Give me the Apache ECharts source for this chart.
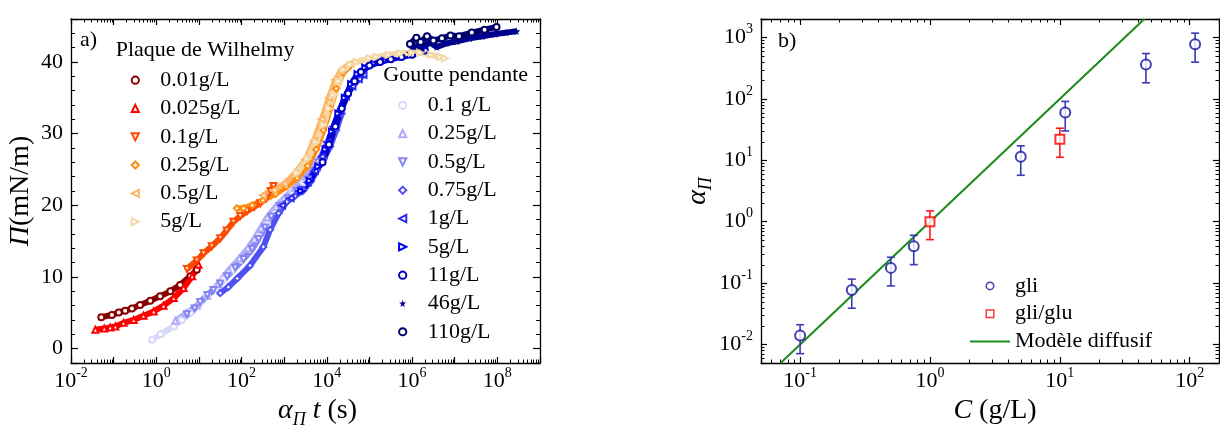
<!DOCTYPE html>
<html><head><meta charset="utf-8">
<script src="https://cdn.jsdelivr.net/npm/echarts@6/dist/echarts.min.js"></script>
<style>html,body{margin:0;padding:0;background:#fff}#c{width:1220px;height:430px}</style>
</head><body><div id="c"></div>
<script>
// ---------- data (x in s, Π in mN/m) : panel a) ----------
// Plaque de Wilhelmy
const w001  = [[0.0513,4.4],[0.0912,4.7],[0.132,5.05],[0.186,5.3],[0.269,5.6],[0.417,6.1],[0.724,6.7],[1.23,7.3],[2.14,8.0],[3.63,8.9],[6.31,10.1],[8.91,11.0]];
const w0025 = [[0.0372,2.65],[0.0603,2.8],[0.0832,2.97],[0.110,3.1],[0.170,3.6],[0.295,4.0],[0.501,4.6],[0.871,5.2],[1.48,6.0],[2.57,7.06],[4.37,8.45],[6.92,10.1],[9.77,11.7]];
const w01   = [[5.25,11.1],[8.91,12.3],[12.9,13.3],[20.0,14.3],[31.6,15.4],[44.7,16.5],[64.6,17.7],[93.3,18.5],[135,19.2],[200,19.8],[275,20.3],[380,21.0],[479,22.0],[562,22.7]];
const w025  = [[77.6,19.6],[112,19.6],[178,20.0],[316,20.7],[631,21.6],[1122,22.6],[1995,23.8],[3548,25.5],[5623,27.8],[8318,30.5],[12020,33.5],[16600,36.3],[23990,38.5],[35480,39.5]];
const w05   = [[316,21.4],[562,22.1],[1000,23.0],[1778,24.4],[3162,26.4],[5012,29.0],[7586,32.0],[11220,35.0],[15850,37.5],[22390,38.9],[35480,39.8]];
const w5    = [[1995,24.5],[3548,26.5],[5623,28.8],[8318,31.2],[11220,33.5],[14450,35.4],[19050,37.3],[24550,38.9],[35480,39.6],[50120,40.0],[1e5,40.5],[1.479e5,40.7],[2.818e5,41.0],[5.248e5,41.2],[1e6,41.3],[1.549e6,41.3],[2.818e6,41.0],[4.571e6,40.7],[5.888e6,40.5]];
// Goutte pendante
const g01   = [[0.794,1.25],[1.26,2.0],[2.57,3.1],[3.98,4.0],[6.31,5.0],[10,6.2],[15.5,7.3],[25.1,8.5],[38.0,9.6],[63.1,11.0],[100,12.4],[158,13.9],[251,15.6],[398,17.4],[631,19.2],[1000,20.6],[1585,21.8],[2818,23.2]];
const g025  = [[2.82,3.9],[5.01,4.9],[8.91,6.0],[15.8,7.4],[28.2,9.0],[50.1,10.9],[89.1,12.6],[141,14.0],[200,15.3],[282,16.8],[398,18.3],[631,19.8],[1000,21.0],[1778,22.4],[3162,24.0],[5623,26.0]];
const g05   = [[5.25,4.8],[7.94,5.6],[10.7,6.5],[15.8,7.5],[21.9,8.2],[31.6,9.1],[45.7,10.1],[70.8,11.3],[112,12.5],[178,13.9],[251,15.3],[355,16.9],[501,18.4],[794,19.9],[1259,21.0],[1995,22.0],[3548,23.6],[6310,26.0],[10000,28.5]];
const g075  = [[31.6,7.75],[49.0,8.6],[79.4,9.8],[158,11.6],[324,14.2],[468,16.6],[741,18.9],[1148,20.5],[1778,21.3],[2818,22.1],[4169,23.3],[5888,24.9],[8511,26.5],[12020,28.2],[16600,30.5],[22390,32.8]];
const g1    = [[891,20.0],[1413,21.0],[2239,22.0],[3548,23.2],[5248,24.8],[7586,26.8],[10470,28.8],[14450,31.0],[19950,33.2],[28180,35.2],[39810,36.6],[56230,37.6],[72440,38.2]];
const g5    = [[2512,22.0],[3981,23.4],[6310,25.4],[9333,27.8],[13180,30.3],[18620,32.8],[26300,35.0],[37150,36.9],[52480,38.3],[79430,39.2],[1.259e5,39.8],[2.239e5,40.2]];
const g11   = [[7943,26.0],[11220,28.5],[15850,31.0],[22390,33.5],[31620,35.6],[44670,37.3],[63100,38.6],[1e5,39.5],[1.778e5,40.0],[3.162e5,40.4],[5.623e5,40.7],[1e6,41.0],[1.995e6,41.6]];
const g46   = [[8.91e5,41.3],[1.259e6,42.3],[1.778e6,41.8],[2.512e6,42.8],[3.802e6,42.1],[6.31e6,42.6],[1.122e7,42.9],[2.239e7,43.3],[4.467e7,43.6],[8.913e7,43.9],[1.585e8,44.1],[2.818e8,44.3]];
const g110  = [[8.91e5,42.5],[1.259e6,43.4],[1.585e6,42.8],[2.239e6,43.6],[3.162e6,43.0],[5.012e6,43.3],[7.943e6,43.7],[1.259e7,43.6],[2.512e7,44.1],[5.012e7,44.5],[9.55e7,44.9]];

const wilNames = ['0.01g/L','0.025g/L','0.1g/L','0.25g/L','0.5g/L','5g/L'];
const gouNames = ['0.1 g/L','0.25g/L','0.5g/L','0.75g/L','1g/L','5g/L','11g/L','46g/L','110g/L'];

// ---------- data : panel b) ----------
const gliC  = [0.1, 0.25, 0.5, 0.75, 5, 11, 46, 110];
const gliA  = [0.014, 0.077, 0.177, 0.40, 11.4, 60, 363, 778];
const gliLo = [0.0071, 0.039, 0.090, 0.20, 5.7, 30, 183, 396];
const gliHi = [0.021, 0.116, 0.264, 0.60, 17.2, 91, 548, 1176];
const gluC  = [1, 10];
const gluA  = [1.0, 22];
const gluLo = [0.51, 11.2];
const gluHi = [1.5, 33.3];
const modelC = [0.0707, 1, 44.7];
const modelA = [0.005, 1, 2000];

// tick labels
const aXDecades = [-2, 0, 2, 4, 6, 8];
const aYTicks = [0, 10, 20, 30, 40];
const bXDecades = [-1, 0, 1, 2];
const bYDecades = [-2, -1, 0, 1, 2, 3];

// ---------- styling ----------
const F = 'Liberation Serif';
const lg = Math.log10;
const toLog = arr => arr.map(p => [lg(p[0]), p[1]]);
const STAR = 'path://M50,0L61,35L98,35L68,57L79,91L50,70L21,91L32,57L2,35L39,35Z';
const SQUARE_RING = 'path://M0,0H10V10H0Z M1.6,1.6V8.4H8.4V1.6Z';
const CIRCLE_RING = 'path://M5,0A5,5,0,1,1,4.99,0Z M5,1.7A3.3,3.3,0,1,0,5.01,1.7Z';

const wilStyle = [
  {data: w001,  color: '#8b0000', symbol: 'emptyCircle',   rot: 0},
  {data: w0025, color: '#ff0000', symbol: 'emptyTriangle', rot: 0},
  {data: w01,   color: '#ff4a00', symbol: 'emptyTriangle', rot: 180},
  {data: w025,  color: '#ff8a10', symbol: 'emptyDiamond',  rot: 0},
  {data: w05,   color: '#ffb466', symbol: 'emptyTriangle', rot: 90},
  {data: w5,    color: '#f3d9a8', symbol: 'emptyTriangle', rot: -90}
];
const gouStyle = [
  {data: g01,  color: '#d8d8fa', symbol: 'emptyCircle',   rot: 0},
  {data: g025, color: '#aeaef6', symbol: 'emptyTriangle', rot: 0},
  {data: g05,  color: '#8484f4', symbol: 'emptyTriangle', rot: 180},
  {data: g075, color: '#5050f2', symbol: 'emptyDiamond',  rot: 0},
  {data: g1,   color: '#2a2af0', symbol: 'emptyTriangle', rot: 90},
  {data: g5,   color: '#0000ee', symbol: 'emptyTriangle', rot: -90},
  {data: g11,  color: '#0000c0', symbol: 'emptyCircle',   rot: 0},
  {data: g46,  color: '#00008e', symbol: STAR,            rot: 0},
  {data: g110, color: '#00006a', symbol: 'emptyCircle',   rot: 0}
];

const tickRich = {
  b: {fontFamily: F, fontSize: 22, lineHeight: 22, verticalAlign: 'bottom', color: '#000'},
  s: {fontFamily: F, fontSize: 14, lineHeight: 14, padding: [0, 0, 12, 0], verticalAlign: 'bottom', color: '#000'}
};
const nameRich = {
  i: {fontFamily: F, fontStyle: 'italic', fontSize: 28, lineHeight: 30, verticalAlign: 'top', color: '#000'},
  n: {fontFamily: F, fontSize: 28, lineHeight: 30, verticalAlign: 'top', color: '#000'},
  sub: {fontFamily: F, fontStyle: 'italic', fontSize: 18, lineHeight: 18, padding: [14, 0, 0, 0], verticalAlign: 'top', color: '#000'}
};
function decFmt(list) {
  return v => { const r = Math.round(v); if (Math.abs(v - r) > 1e-6 || list.indexOf(r) < 0) return ''; return '{b|10}{s|' + r + '}'; };
}
function ax(extra) {
  return Object.assign({
    type: 'value', splitLine: {show: false}, minorSplitLine: {show: false},
    axisLine: {show: true, onZero: false, lineStyle: {color: '#000', width: 1.3}},
    axisTick: {show: true, inside: true, length: 6, lineStyle: {color: '#000', width: 1.2}},
    minorTick: {show: false},
    axisLabel: {show: false},
    axisPointer: {show: false}
  }, extra);
}

const aX = {min: -2, max: 9, minInterval: 1, maxInterval: 1};
const aY = {min: -2, max: 46, minInterval: 10, maxInterval: 10};
const bX = {min: lg(0.05), max: lg(168), minInterval: 1, maxInterval: 1};
const bY = {min: lg(0.005), max: lg(2000), minInterval: 1, maxInterval: 1};

const xAxis = [
  ax(Object.assign({gridIndex: 0, position: 'bottom',
    axisLabel: {show: true, margin: 7, formatter: decFmt(aXDecades), rich: tickRich, color: '#000'},
    name: '{i|α}{sub|Π}{i| t}{n| (s)}', nameLocation: 'middle', nameGap: 30,
    nameTextStyle: {rich: nameRich, padding: [0, 0, 0, 24]}}, aX)),
  ax(Object.assign({gridIndex: 0, position: 'top'}, aX)),
  ax(Object.assign({gridIndex: 1, position: 'bottom',
    axisLabel: {show: true, margin: 7, formatter: decFmt(bXDecades), rich: tickRich, color: '#000'},
    name: '{i|C}{n| (g/L)}', nameLocation: 'middle', nameGap: 30,
    nameTextStyle: {rich: nameRich, padding: [0, 0, 0, 10]}}, bX)),
  ax(Object.assign({gridIndex: 1, position: 'top'}, bX))
];
const yAxis = [
  ax(Object.assign({gridIndex: 0, position: 'left', axisTick: {show: true, inside: true, length: 7, lineStyle: {color: '#000', width: 1.2}},
    minorTick: {show: true, splitNumber: 5, length: 4, lineStyle: {color: '#000', width: 1}},
    axisLabel: {show: true, margin: 8, fontFamily: F, fontSize: 22, color: '#000', formatter: v => aYTicks.indexOf(v) >= 0 ? String(v) : ''},
    name: '{i|Π}{n|(mN/m)}', nameLocation: 'middle', nameGap: 34, nameTextStyle: {rich: nameRich}}, aY)),
  ax(Object.assign({gridIndex: 0, position: 'right', axisTick: {show: true, inside: true, length: 7, lineStyle: {color: '#000', width: 1.2}},
    minorTick: {show: true, splitNumber: 5, length: 4, lineStyle: {color: '#000', width: 1}}}, aY)),
  ax(Object.assign({gridIndex: 1, position: 'left',
    axisLabel: {show: true, margin: 8, formatter: decFmt(bYDecades), rich: tickRich, color: '#000'},
    name: '{i|α}{sub|Π}', nameLocation: 'middle', nameGap: 46, nameTextStyle: {rich: nameRich}}, bY)),
  ax(Object.assign({gridIndex: 1, position: 'right'}, bY))
];

// log minor ticks (2..9 x 10^d) drawn through the axes
function minorVals(lo, hi) {
  const out = [];
  for (let d = Math.floor(lo) - 1; d <= Math.ceil(hi); d++)
    for (let k = 2; k <= 9; k++) { const v = d + lg(k); if (v > lo && v < hi) out.push(v); }
  return out;
}
function minorTickSeries(xi, yi, xv, yv, len) {
  const data = xv.map(v => [v, 0]).concat(yv.map(v => [v, 1]));
  return {
    type: 'custom', xAxisIndex: xi, yAxisIndex: yi, silent: true, z: 1, animation: false,
    data: data,
    renderItem: (params, api) => {
      const cs = params.coordSys; const v = api.value(0); const kind = api.value(1);
      const st = {stroke: '#000', lineWidth: 1};
      if (kind === 0) {
        const px = Math.round(api.coord([v, yAxis[yi].min])[0]) + 0.5;
        const b = cs.y + cs.height, t = cs.y;
        return {type: 'group', children: [
          {type: 'line', shape: {x1: px, y1: b, x2: px, y2: b - len}, style: st},
          {type: 'line', shape: {x1: px, y1: t, x2: px, y2: t + len}, style: st}]};
      } else {
        const py = Math.round(api.coord([xAxis[xi].min, v])[1]) + 0.5;
        const l = cs.x, r = cs.x + cs.width;
        return {type: 'group', children: [
          {type: 'line', shape: {x1: l, y1: py, x2: l + len, y2: py}, style: st},
          {type: 'line', shape: {x1: r, y1: py, x2: r - len, y2: py}, style: st}]};
      }
    }
  };
}
function errSeries(C, lo, hi, color) {
  return {
    type: 'custom', xAxisIndex: 2, yAxisIndex: 2, silent: true, z: 3, animation: false,
    data: C.map((c, i) => [lg(c), lg(lo[i]), lg(hi[i])]),
    encode: {x: 0, y: [1, 2]},
    renderItem: (params, api) => {
      const p1 = api.coord([api.value(0), api.value(1)]);
      const p2 = api.coord([api.value(0), api.value(2)]);
      const st = {stroke: color, lineWidth: 1.6}; const w = 4;
      return {type: 'group', children: [
        {type: 'line', shape: {x1: p1[0], y1: p1[1], x2: p2[0], y2: p2[1]}, style: st},
        {type: 'line', shape: {x1: p1[0] - w, y1: p1[1], x2: p1[0] + w, y2: p1[1]}, style: st},
        {type: 'line', shape: {x1: p2[0] - w, y1: p2[1], x2: p2[0] + w, y2: p2[1]}, style: st}]};
    }
  };
}

function curve(prefix, name, s, z) {
  return {
    type: 'line', name: prefix + '|' + name, xAxisIndex: 0, yAxisIndex: 0,
    data: toLog(s.data), symbol: s.symbol, symbolRotate: s.rot, symbolSize: s.symbol === STAR ? 8 : 6,
    showSymbol: true, showAllSymbol: true, clip: true, animation: false, z: z,
    lineStyle: {color: s.color, width: 6}, itemStyle: {color: s.color},
    emphasis: {disabled: true}
  };
}

const series = [];
gouStyle.forEach((s, i) => series.push(curve('G', gouNames[i], s, 2)));
wilStyle.forEach((s, i) => series.push(curve('W', wilNames[i], s, 2)));
series.push(minorTickSeries(0, 0, minorVals(aX.min, aX.max), [], 3.5));
series.push(minorTickSeries(2, 2, minorVals(bX.min, bX.max), minorVals(bY.min, bY.max), 3.5));
series.push({type: 'line', name: 'Modèle diffusif', xAxisIndex: 2, yAxisIndex: 2,
  data: modelC.map((c, i) => [lg(c), lg(modelA[i])]), symbol: 'none', clip: true, z: 2, animation: false,
  lineStyle: {color: '#1a8c1a', width: 2}, itemStyle: {color: '#1a8c1a'}, emphasis: {disabled: true}});
series.push(errSeries(gliC, gliLo, gliHi, '#3a3ab4'));
series.push(errSeries(gluC, gluLo, gluHi, '#ff1a1a'));
series.push({type: 'scatter', name: 'gli', xAxisIndex: 2, yAxisIndex: 2, z: 4, animation: false,
  data: gliC.map((c, i) => [lg(c), lg(gliA[i])]), symbol: 'emptyCircle', symbolSize: 10,
  itemStyle: {color: '#1414a0', borderWidth: 1.8}, emphasis: {disabled: true}});
series.push({type: 'scatter', name: 'gli/glu', xAxisIndex: 2, yAxisIndex: 2, z: 4, animation: false,
  data: gluC.map((c, i) => [lg(c), lg(gluA[i])]), symbol: 'emptyRect', symbolSize: 9,
  itemStyle: {color: '#ff0000', borderWidth: 1.6}, emphasis: {disabled: true}});

const legText = {fontFamily: F, fontSize: 22, color: '#000', lineHeight: 28.3};
const legBase = {orient: 'vertical', padding: 0, itemGap: 0, itemWidth: 40, itemHeight: 9, selectedMode: false,
  symbolKeepAspect: true,
  textStyle: legText, lineStyle: {opacity: 0}, formatter: n => n.indexOf('|') >= 0 ? n.split('|')[1] : n};

const option = {
  backgroundColor: '#fff',
  animation: false,
  grid: [
    {left: 71, top: 19, width: 469, height: 344, outerBoundsMode: 'none', containLabel: false},
    {left: 761, top: 19, width: 458, height: 344, outerBoundsMode: 'none', containLabel: false}
  ],
  xAxis: xAxis, yAxis: yAxis,
  legend: [
    Object.assign({}, legBase, {left: 114.3, top: 66, data: wilNames.map(n => 'W|' + n)}),
    Object.assign({}, legBase, {left: 381.7, top: 91.2, data: gouNames.map(n => 'G|' + n)}),
    Object.assign({}, legBase, {left: 970, top: 272, textStyle: Object.assign({}, legText, {lineHeight: 27.8}),
      lineStyle: {}, data: [
        {name: 'gli', icon: CIRCLE_RING},
        {name: 'gli/glu', icon: SQUARE_RING},
        {name: 'Modèle diffusif', icon: 'path://M0,0L40,0L40,2L0,2Z'}]})
  ],
  graphic: [
    {type: 'text', left: 80, top: 29, style: {text: 'a)', font: '22px "Liberation Serif"', fill: '#000'}},
    {type: 'text', left: 778, top: 30, style: {text: 'b)', font: '22px "Liberation Serif"', fill: '#000'}},
    {type: 'text', left: 115.7, top: 39, style: {text: 'Plaque de Wilhelmy', font: '22px "Liberation Serif"', fill: '#000'}},
    {type: 'text', left: 383.3, top: 64, style: {text: 'Goutte pendante', font: '22px "Liberation Serif"', fill: '#000'}}
  ],
  series: series
};
const chart = echarts.init(document.getElementById('c'), null, {renderer: 'canvas'});
chart.setOption(option);
</script></body></html>
